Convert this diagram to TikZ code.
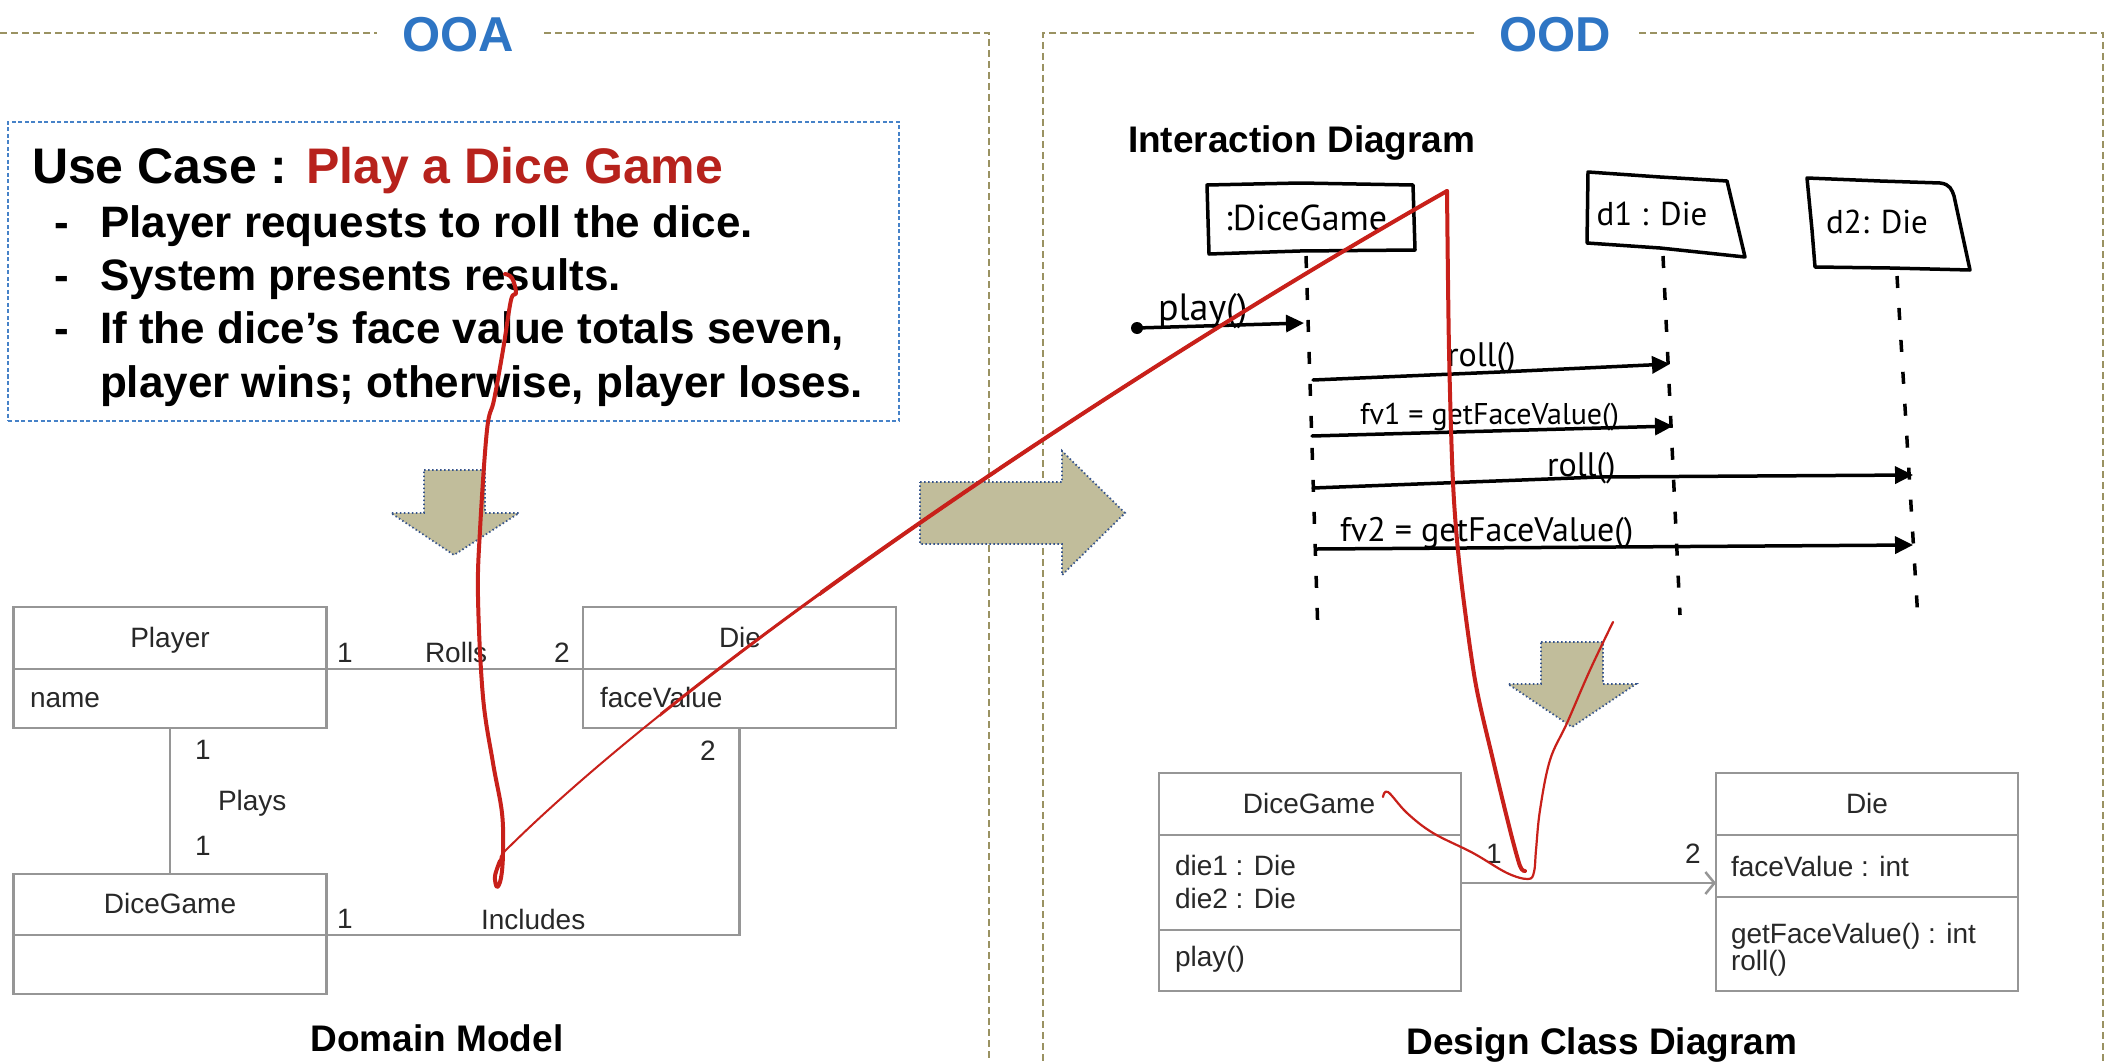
\documentclass[tikz,border=0pt]{standalone}
\usepackage{fontspec}
\setmainfont{Liberation Sans}
\newfontfamily\handfont{PT Sans}
\usetikzlibrary{arrows.meta}
\definecolor{frameol}{RGB}{154,146,98}
\definecolor{hdrblue}{RGB}{46,117,196}
\definecolor{ucblue}{RGB}{70,130,200}
\definecolor{ucred}{RGB}{183,34,28}
\definecolor{arrfill}{RGB}{193,189,155}
\definecolor{arrborder}{RGB}{55,85,140}
\definecolor{umlgray}{RGB}{150,150,150}
\definecolor{umltext}{RGB}{40,40,40}
\definecolor{pen}{RGB}{200,32,26}
\newcommand\myfs[1]{\fontsize{#1}{#1}\selectfont}
\begin{document}
\begin{tikzpicture}[x=1pt,y=-1pt,
  every node/.style={inner sep=0pt,outer sep=0pt},
  frame/.style={draw=frameol,line width=2.5pt,dash pattern=on 7pt off 4pt},
  hdr/.style={text=hdrblue,font=\bfseries\myfs{49},anchor=base},
  umlc/.style={draw=umlgray,line width=2.5pt,anchor=north west},
  umlt/.style={text=umltext,font=\myfs{28}},
  assoc/.style={draw=umlgray,line width=2.5pt},
  bigarrow/.style={fill=arrfill,draw=arrborder,line width=1.8pt,dash pattern=on 1.5pt off 2.5pt},
  handtxt/.style={font=\handfont\myfs{34},anchor=base west},
  sketch/.style={draw=black,line width=3.5pt,line join=round,line cap=round},
  lifeline/.style={draw=black,line width=3.5pt,dash pattern=on 12pt off 20pt},
  msg/.style={draw=black,line width=3.5pt,line cap=round,-{Triangle[length=18pt,width=17pt]}},
  redpen/.style={draw=pen,line cap=round,line join=round},
  caption/.style={font=\bfseries\myfs{37}},
  bullet/.style={font=\bfseries\myfs{44},anchor=base west}
]
\useasboundingbox[fill=white] (0,0) rectangle (2119,1062);

% ---------- frames ----------
\draw[frame] (0,33) -- (377,33);
\draw[frame] (544,33) -- (989,33) -- (989,1062);
\draw[frame] (1474,33) -- (1043,33) -- (1043,1062);
\draw[frame] (1639,33) -- (2103,33) -- (2103,1062);
\node[hdr] (ooa) at (458,52) {OOA};
\node[hdr] (ood) at (1555,52) {OOD};

% ---------- use case ----------
\node[draw=ucblue,line width=1.8pt,dash pattern=on 4pt off 2.5pt,minimum width=891pt,minimum height=299pt,anchor=north west] (ucbox) at (8,122) {};
\node[anchor=base west,font=\bfseries\myfs{50}] (uctitle) at (32,183) {Use Case : \textcolor{ucred}{Play a Dice Game}};
\node[bullet] (d1) at (54,237) {-};
\node[bullet] (l1) at (100,237) {Player requests to roll the dice.};
\node[bullet] (d2) at (54,290) {-};
\node[bullet] (l2) at (100,290) {System presents results.};
\node[bullet] (d3) at (54,343) {-};
\node[bullet] (l3) at (100,343) {If the dice’s face value totals seven,};
\node[bullet] (l4) at (100,397) {player wins; otherwise, player loses.};

% ---------- arrows ----------
\path[bigarrow] (424,470) -- (485,470) -- (485,513) -- (519,513) -- (454,555) -- (391,513) -- (424,513) -- cycle;
\path[bigarrow] (1541,642) -- (1603,642) -- (1603,684) -- (1636,684) -- (1572,727) -- (1508,684) -- (1541,684) -- cycle;

% ---------- domain model ----------
\node[umlc,minimum width=313pt,minimum height=62pt] (playerHead) at (13.5,607) {};
\node[umlc,minimum width=313pt,minimum height=59pt] (playerBody) at (13.5,669) {};
\node[umlc,minimum width=313pt,minimum height=62pt] (dieHead) at (583,607) {};
\node[umlc,minimum width=313pt,minimum height=59pt] (dieBody) at (583,669) {};
\node[umlc,minimum width=313pt,minimum height=61pt] (gameHead) at (13.5,874) {};
\node[umlc,minimum width=313pt,minimum height=59pt] (gameBody) at (13.5,935) {};
\node[umlt,anchor=base] (tPlayer) at (170,647) {Player};
\node[umlt,anchor=base west] (tName) at (30,707) {name};
\node[umlt,anchor=base] (tDie) at (740,647) {Die};
\node[umlt,anchor=base west] (tFace) at (600,707) {faceValue};
\node[umlt,anchor=base] (tGame) at (170,913) {DiceGame};
\draw[assoc] (playerHead.south east) -- (dieHead.south west);
\draw[assoc] (playerBody.south) -- (gameHead.north);
\draw[assoc] (gameHead.south east) -| (dieBody.south);
\node[umlt,anchor=base west] (mR1) at (337,662) {1};
\node[umlt,anchor=base west] (mRolls) at (425,662) {Rolls};
\node[umlt,anchor=base west] (mR2) at (554,662) {2};
\node[umlt,anchor=base west] (mP1) at (195,759) {1};
\node[umlt,anchor=base west] (mPlays) at (218,810) {Plays};
\node[umlt,anchor=base west] (mP2) at (195,855) {1};
\node[umlt,anchor=base west] (mI1) at (337,928) {1};
\node[umlt,anchor=base west] (mInc) at (481,929) {Includes};
\node[umlt,anchor=base west] (mI2) at (700,760) {2};
\node[caption,anchor=base] (capDM) at (437,1051) {Domain Model};

% ---------- big arrow OOA -> OOD ----------
\path[bigarrow] (920,482) -- (1062,482) -- (1062,451) -- (1125,513) -- (1062,575) -- (1062,544) -- (920,544) -- cycle;

% ---------- interaction diagram ----------
\node[caption,anchor=base west] (capID) at (1128,153) {Interaction Diagram};
\draw[sketch] (1207,185) -- (1300,183) -- (1413,185) -- (1415,250) -- (1300,251) -- (1209,254) -- cycle;
\node[font=\handfont\myfs{36}] (sdGame) at (1306,218) {:DiceGame};
\draw[sketch] (1588,172) -- (1660,177) -- (1727,181) -- (1745,257) -- (1660,248) -- (1587,243) -- cycle;
\node[font=\handfont\myfs{33}] (sdD1) at (1652,214) {d1 : Die};
\draw[sketch] (1807,178) -- (1880,181) -- (1940,183) .. controls (1950,184) and (1952,190) .. (1954,196) -- (1970,270) -- (1890,268) -- (1815,267) -- (1812,230) -- cycle;
\node[font=\handfont\myfs{33}] (sdD2) at (1877,222) {d2: Die};
\coordinate (llGa) at (1306,256);
\coordinate (llGb) at (1318,635);
\coordinate (llD1a) at (1663,256);
\coordinate (llD1b) at (1680,615);
\coordinate (llD2a) at (1897,276);
\coordinate (llD2b) at (1918,620);
\draw[lifeline] (llGa) -- (llGb);
\draw[lifeline] (llD1a) -- (llD1b);
\draw[lifeline] (llD2a) -- (llD2b);
% messages
\coordinate (pStart) at (1137,328);
\coordinate (pEnd) at (1304,323);
\fill (pStart) circle (6pt);
\draw[msg] (pStart) -- (pEnd);
\node[handtxt,font=\handfont\myfs{38}] (tPlay) at (1158,320) {play()};
\coordinate (r1a) at (1313,380);
\coordinate (r1b) at (1670,364);
\draw[msg] (r1a) -- (1500,372) -- (r1b);
\node[handtxt] (tRoll1) at (1447,366) {roll()};
\coordinate (f1a) at (1312,436);
\coordinate (f1b) at (1673,426);
\draw[msg] (f1a) -- (f1b);
\node[handtxt,font=\handfont\myfs{30}] (tFv1) at (1360,424) {fv1 = getFaceValue()};
\coordinate (r2a) at (1313,488);
\coordinate (r2b) at (1913,475);
\draw[msg] (r2a) -- (1600,477) -- (r2b);
\node[handtxt] (tRoll2) at (1547,476) {roll()};
\coordinate (f2a) at (1317,549);
\coordinate (f2b) at (1913,545);
\draw[msg] (f2a) -- (f2b);
\node[handtxt,font=\handfont\myfs{34}] (tFv2) at (1340,541) {fv2 = getFaceValue()};

% ---------- design class diagram ----------
\node[umlc,minimum width=302pt,minimum height=62pt] (dgHead) at (1159,773) {};
\node[umlc,minimum width=302pt,minimum height=95pt] (dgAttr) at (1159,835) {};
\node[umlc,minimum width=302pt,minimum height=61pt] (dgOps) at (1159,930) {};
\node[umlc,minimum width=302pt,minimum height=62pt] (ddHead) at (1716,773) {};
\node[umlc,minimum width=302pt,minimum height=62pt] (ddAttr) at (1716,835) {};
\node[umlc,minimum width=302pt,minimum height=94pt] (ddOps) at (1716,897) {};
\node[umlt,anchor=base] (cGame) at (1309,813) {DiceGame};
\node[umlt,anchor=base west] (cDie1) at (1175,875) {die1 : Die};
\node[umlt,anchor=base west] (cDie2) at (1175,908) {die2 : Die};
\node[umlt,anchor=base west] (cPlay) at (1175,966) {play()};
\node[umlt,anchor=base] (cDie) at (1867,813) {Die};
\node[umlt,anchor=base west] (cFace) at (1731,876) {faceValue : int};
\node[umlt,anchor=base west] (cGet) at (1731,943) {getFaceValue() : int};
\node[umlt,anchor=base west] (cRoll) at (1731,970) {roll()};
\coordinate (assocY) at (0,883);
\draw[assoc,-{Straight Barb[length=9pt,width=22pt]}] (dgAttr.east |- assocY) -- (ddAttr.west |- assocY);
\node[umlt,anchor=base west] (cM1) at (1486,863) {1};
\node[umlt,anchor=base west] (cM2) at (1685,863) {2};
\node[caption,anchor=base] (capDCD) at (1602,1054) {Design Class Diagram};

% ---------- red pen annotations ----------
\draw[redpen,line width=4pt] plot[smooth,tension=0.6] coordinates {(505,274) (512,278) (516,293) (511,300) (503,350) (494,400) (487,430) (480,530) (478,597) (483,697) (493,763) (502,813) (503,853) (501,878) (497,887) (495,876) (500,861)};
\draw[redpen,line width=2pt] (500,861) .. controls (500,858) and (501,855) .. (503,853);
\draw[redpen,line width=2pt] (503,853) .. controls (703,653) and (1147,361) .. (1447,191);
\begin{scope}
  \clip (660,0) rectangle (2119,1062);
  \draw[redpen,line width=3pt] (503,853) .. controls (703,653) and (1147,361) .. (1447,191);
\end{scope}
\begin{scope}
  \clip (820,0) rectangle (2119,1062);
  \draw[redpen,line width=4pt] (503,853) .. controls (703,653) and (1147,361) .. (1447,191);
\end{scope}
\draw[redpen,line width=4pt] plot[smooth,tension=0.5] coordinates {(1447,191) (1449,350) (1453,483) (1460,570) (1475,680) (1493,760) (1510,830) (1520,866) (1525,871)};
\draw[redpen,line width=2.2pt] plot[smooth,tension=0.6] coordinates {(1383,797) (1388,792) (1407,813) (1433,833) (1473,853) (1507,873) (1528,879) (1534,872) (1536,850) (1540,810) (1550,760) (1567,723) (1590,670) (1613,622)};
\end{tikzpicture}
\end{document}
